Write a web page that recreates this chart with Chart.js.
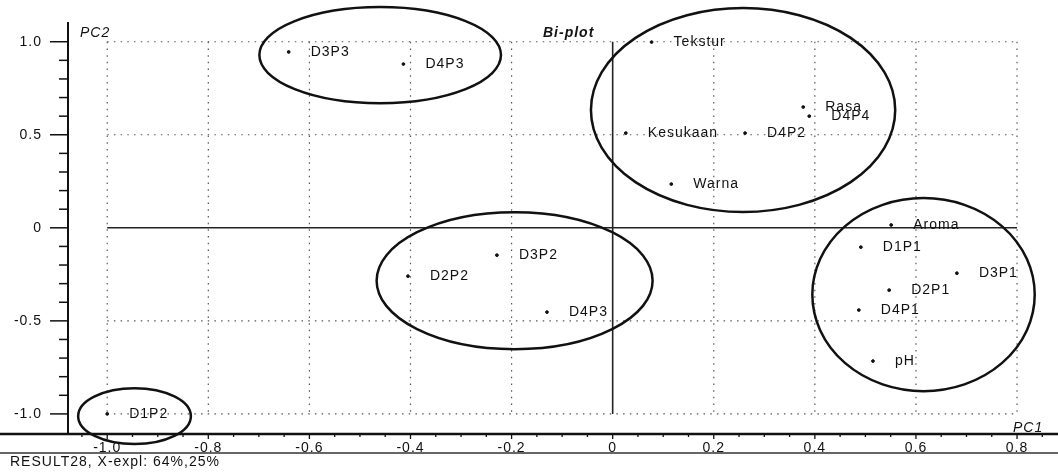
<!DOCTYPE html>
<html>
<head>
<meta charset="utf-8">
<script src="https://cdn.jsdelivr.net/npm/chart.js@4.4.1/dist/chart.umd.min.js"></script>
<style>
  html, body { margin: 0; padding: 0; background: #fff; }
  #wrap { width: 1058px; height: 473px; position: relative; }
</style>
</head>
<body>
<div id="wrap"><canvas id="biplot"></canvas></div>
<script>
// 点の名前と PC1 / PC2 の値
const pointNames = ["D3P3", "D4P3", "Tekstur", "Rasa", "D4P4", "Kesukaan", "D4P2", "Warna",
  "Aroma", "D1P1", "D3P1", "D2P1", "D4P1", "pH", "D3P2", "D2P2", "D4P3", "D1P2"];
const pc1 = [-0.641, -0.414, 0.077, 0.377, 0.389, 0.026, 0.262, 0.116,
  0.551, 0.491, 0.681, 0.547, 0.487, 0.515, -0.229, -0.405, -0.130, -1.0];
const pc2 = [0.945, 0.88, 0.998, 0.649, 0.60, 0.509, 0.509, 0.235,
  0.015, -0.104, -0.244, -0.335, -0.442, -0.716, -0.147, -0.26, -0.453, -1.0];

// 目盛り
const xTicks = [-1.0, -0.8, -0.6, -0.4, -0.2, 0, 0.2, 0.4, 0.6, 0.8];
const yTicks = [-1.0, -0.5, 0, 0.5, 1.0];

// 手書きの楕円（データ単位）
const ellipseCx = [-0.460, 0.258, -0.194, 0.615, -0.946];
const ellipseCy = [0.928, 0.633, -0.284, -0.359, -1.012];
const ellipseRx = [0.239, 0.301, 0.273, 0.220, 0.1115];
const ellipseRy = [0.258, 0.548, 0.368, 0.519, 0.15];

const FONT = "'Liberation Sans', Arial, sans-serif";

const biplotDecor = {
  id: 'biplotDecor',
  beforeDraw(chart) {
    chart.ctx.letterSpacing = '1px';
  },
  beforeDatasetsDraw(chart) {
    const ctx = chart.ctx;
    const xs = chart.scales.x, ys = chart.scales.y;
    const area = chart.chartArea;
    ctx.save();
    // 点線のグリッド
    ctx.strokeStyle = '#555';
    ctx.lineWidth = 1.2;
    ctx.setLineDash([1.5, 5.2]);
    xTicks.forEach(v => {
      if (v === 0) return;
      const px = xs.getPixelForValue(v);
      ctx.beginPath();
      ctx.moveTo(px, ys.getPixelForValue(1.0));
      ctx.lineTo(px, ys.getPixelForValue(-1.0));
      ctx.stroke();
    });
    yTicks.forEach(v => {
      if (v === 0) return;
      const py = ys.getPixelForValue(v);
      ctx.beginPath();
      ctx.moveTo(xs.getPixelForValue(-1.0), py);
      ctx.lineTo(xs.getPixelForValue(0.8), py);
      ctx.stroke();
    });
    ctx.setLineDash([]);
    // ゼロの線
    ctx.strokeStyle = '#222';
    ctx.lineWidth = 1.6;
    ctx.beginPath();
    ctx.moveTo(xs.getPixelForValue(-1.0), ys.getPixelForValue(0));
    ctx.lineTo(xs.getPixelForValue(0.8), ys.getPixelForValue(0));
    ctx.moveTo(xs.getPixelForValue(0), ys.getPixelForValue(1.0));
    ctx.lineTo(xs.getPixelForValue(0), ys.getPixelForValue(-1.0));
    ctx.stroke();

    // Y軸
    ctx.strokeStyle = '#111';
    ctx.lineWidth = 2;
    ctx.beginPath();
    ctx.moveTo(area.left, area.top);
    ctx.lineTo(area.left, area.bottom);
    ctx.stroke();
    ctx.lineWidth = 1.5;
    for (let i = -10; i <= 10; i++) {
      const py = ys.getPixelForValue(i / 10);
      const len = (i % 5 === 0) ? 18 : 9;
      ctx.beginPath();
      ctx.moveTo(area.left - len, py);
      ctx.lineTo(area.left, py);
      ctx.stroke();
    }
    // X軸
    ctx.lineWidth = 2.5;
    ctx.beginPath();
    ctx.moveTo(0, area.bottom);
    ctx.lineTo(chart.width, area.bottom);
    ctx.stroke();
    ctx.lineWidth = 1.3;
    for (let i = -21; i <= 17; i++) {
      const px = xs.getPixelForValue(i / 20);
      const len = (i % 4 === 0) ? 5 : 3;
      ctx.beginPath();
      ctx.moveTo(px, area.bottom);
      ctx.lineTo(px, area.bottom + len);
      ctx.stroke();
    }
    ctx.strokeStyle = '#333';
    ctx.lineWidth = 1.5;
    ctx.beginPath();
    ctx.moveTo(0, area.bottom + 19);
    ctx.lineTo(chart.width, area.bottom + 19);
    ctx.stroke();
    ctx.restore();
  },
  afterDatasetsDraw(chart) {
    const ctx = chart.ctx;
    const xs = chart.scales.x, ys = chart.scales.y;
    const area = chart.chartArea;
    const meta = chart.getDatasetMeta(0);
    ctx.save();
    ctx.fillStyle = '#111';
    ctx.font = '14px ' + FONT;
    ctx.textBaseline = 'middle';
    ctx.textAlign = 'left';
    meta.data.forEach((pt, i) => {
      ctx.fillText(pointNames[i], pt.x + 22, pt.y);
    });

    // 楕円
    ctx.strokeStyle = '#111';
    ctx.lineWidth = 2.5;
    for (let i = 0; i < ellipseCx.length; i++) {
      const cx = xs.getPixelForValue(ellipseCx[i]);
      const cy = ys.getPixelForValue(ellipseCy[i]);
      const rx = xs.getPixelForValue(ellipseCx[i] + ellipseRx[i]) - cx;
      const ry = cy - ys.getPixelForValue(ellipseCy[i] + ellipseRy[i]);
      ctx.beginPath();
      ctx.ellipse(cx, cy, rx, ry, 0, 0, Math.PI * 2);
      ctx.stroke();
    }

    // 文字
    ctx.font = 'italic 14px ' + FONT;
    ctx.fillText('PC2', 80, 33);
    ctx.fillText('PC1', 1013, area.bottom - 6);
    ctx.font = 'italic bold 14px ' + FONT;
    ctx.fillText('Bi-plot', 543, 33);
    ctx.font = '14px ' + FONT;
    ctx.fillText('RESULT28, X-expl: 64%,25%', 10, 462);
    ctx.restore();
  }
};

const ctx = document.getElementById('biplot').getContext('2d');
const biplotChart = new Chart(ctx, {
  type: 'scatter',
  data: {
    datasets: [{
      label: 'Bi-plot',
      data: pc1.map((v, i) => ({ x: v, y: pc2[i] })),
      backgroundColor: '#111',
      borderColor: '#111',
      pointRadius: 1.4,
      pointHoverRadius: 1.4
    }]
  },
  options: {
    responsive: true,
    maintainAspectRatio: false,
    animation: false,
    events: [],
    layout: { padding: { top: 22, left: 0, right: 0, bottom: 0 } },
    plugins: {
      legend: { display: false },
      tooltip: { enabled: false }
    },
    scales: {
      x: {
        type: 'linear',
        min: -1.0776,
        max: 0.8763,
        afterBuildTicks: function (scale) {
          scale.ticks = xTicks.map(v => ({ value: v }));
        },
        afterFit: function (scale) { scale.height = 39; },
        grid: { display: false, drawTicks: false },
        border: { display: false },
        ticks: {
          color: '#111',
          padding: 6,
          maxRotation: 0,
          autoSkip: false,
          font: { family: FONT, size: 14 },
          callback: v => (v === 0 ? '0' : v.toFixed(1))
        }
      },
      y: {
        type: 'linear',
        min: -1.108,
        max: 1.106,
        afterBuildTicks: function (scale) {
          scale.ticks = yTicks.map(v => ({ value: v }));
        },
        afterFit: function (scale) { scale.width = 68; },
        grid: { display: false, drawTicks: true, tickLength: 22, tickColor: 'rgba(0,0,0,0)' },
        border: { display: false },
        ticks: {
          color: '#111',
          padding: 4,
          autoSkip: false,
          font: { family: FONT, size: 14 },
          callback: v => (v === 0 ? '0' : v.toFixed(1))
        }
      }
    }
  },
  plugins: [biplotDecor]
});
</script>
</body>
</html>
